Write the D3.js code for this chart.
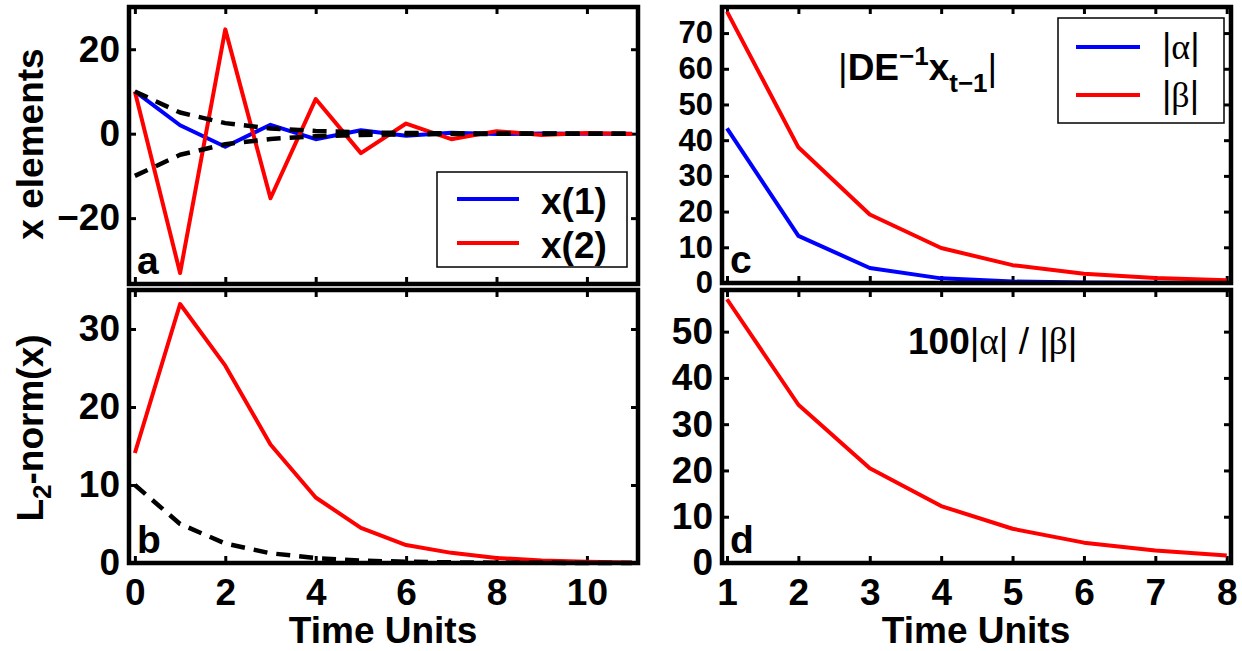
<!DOCTYPE html>
<html>
<head>
<meta charset="utf-8">
<script src="https://cdn.jsdelivr.net/npm/d3@7"></script>
<style>
  body { margin: 0; background: #fff; }
  svg { display: block; }
  text { font-family: "Liberation Sans", Arial, Helvetica, sans-serif; fill: #000; }
</style>
</head>
<body>
<div id="chart"></div>
<script>
// Sizes of the picture
var w = 1242,
    h = 651;

// Time steps for the left panels (a, b) and the right panels (c, d)
var timeLeft = [0, 1, 2, 3, 4, 5, 6, 7, 8, 9, 10, 11];
var timeRight = [1, 2, 3, 4, 5, 6, 7, 8];

// Panel a: the two elements of x and the dashed envelope
var x1Values = [10, 2, -3.1, 2.1, -1.3, 0.8, -0.5, 0.2, -0.1, 0.05, -0.02, 0.01];
var x2Values = [10, -33, 24.7, -15.3, 8.2, -4.6, 2.4, -1.3, 0.6, -0.3, 0.15, -0.07];
var envUpper = [10, 5, 2.5, 1.25, 0.63, 0.31, 0.16, 0.08, 0.04, 0.02, 0.01, 0.005];
var envLower = [-10, -5, -2.5, -1.25, -0.63, -0.31, -0.16, -0.08, -0.04, -0.02, -0.01, -0.005];

// Panel b: L2-norm of x and the dashed reference
var normValues = [14.1, 33.2, 25.3, 15.2, 8.4, 4.5, 2.3, 1.3, 0.65, 0.33, 0.16, 0.08];
var normRef = [10, 5, 2.5, 1.25, 0.63, 0.31, 0.16, 0.08, 0.04, 0.02, 0.01, 0.005];

// Panel c: |alpha| and |beta|
var alphaValues = [43.3, 13.2, 4.2, 1.3, 0.4, 0.12, 0.04, 0.01];
var betaValues = [76, 38, 19.2, 9.8, 5, 2.6, 1.4, 0.8];

// Panel d: 100|alpha| / |beta|
var ratioValues = [57, 34.2, 20.5, 12.3, 7.4, 4.4, 2.7, 1.6];

// Tick values
var ticksLeftX = [0, 2, 4, 6, 8, 10];
var ticksRightX = [1, 2, 3, 4, 5, 6, 7, 8];
var ticksA = [-20, 0, 20];
var ticksB = [0, 10, 20, 30];
var ticksC = [0, 10, 20, 30, 40, 50, 60, 70];
var ticksD = [0, 10, 20, 30, 40, 50];

var blue = "#0000ff", red = "#ff0000";
var fontSize = 37;

var svg = d3.select("#chart")
    .append("svg")
    .attr("width", w)
    .attr("height", h)
    .attr("viewBox", "0 0 " + w + " " + h);

// Draws one framed panel with inward ticks on all four sides.
function panel(cfg) {
    var x = d3.scaleLinear().domain(cfg.xDomain).range([cfg.left, cfg.right]);
    var y = d3.scaleLinear().domain(cfg.yDomain).range([cfg.bottom, cfg.top]);
    var g = svg.append("g");

    g.append("rect")
        .attr("x", cfg.left)
        .attr("y", cfg.top)
        .attr("width", cfg.right - cfg.left)
        .attr("height", cfg.bottom - cfg.top)
        .attr("fill", "#fff");

    var bottomAxis = d3.axisBottom(x).tickValues(cfg.xTicks)
        .tickSizeInner(-7).tickSizeOuter(0).tickPadding(16);
    if (!cfg.xLabels) bottomAxis.tickFormat("");
    g.append("g")
        .attr("transform", "translate(0," + cfg.bottom + ")")
        .call(bottomAxis);

    g.append("g")
        .attr("transform", "translate(0," + cfg.top + ")")
        .call(d3.axisTop(x).tickValues(cfg.xTicks)
            .tickSizeInner(-7).tickSizeOuter(0).tickFormat(""));

    var leftAxis = g.append("g")
        .attr("class", "left-axis")
        .attr("transform", "translate(" + cfg.left + ",0)")
        .call(d3.axisLeft(y).tickValues(cfg.yTicks)
            .tickSizeInner(-7).tickSizeOuter(0).tickPadding(9));

    g.append("g")
        .attr("transform", "translate(" + cfg.right + ",0)")
        .call(d3.axisRight(y).tickValues(cfg.yTicks)
            .tickSizeInner(-7).tickSizeOuter(0).tickFormat(""));

    g.selectAll(".domain").remove();
    g.selectAll(".tick line").attr("stroke", "#000").attr("stroke-width", 3);
    g.selectAll(".tick text")
        .attr("font-size", fontSize)
        .attr("font-weight", "bold")
        .attr("font-family", "'Liberation Sans', Arial, sans-serif");
    // dense y ticks (panel c) need a slightly smaller face
    if (cfg.yFont) leftAxis.selectAll(".tick text").attr("font-size", cfg.yFont);

    var plot = g.append("g");

    g.append("rect")
        .attr("x", cfg.left)
        .attr("y", cfg.top)
        .attr("width", cfg.right - cfg.left)
        .attr("height", cfg.bottom - cfg.top)
        .attr("fill", "none")
        .attr("stroke", "#000")
        .attr("stroke-width", 4.5);

    // panel letter
    g.append("text")
        .attr("x", cfg.left + 8)
        .attr("y", cfg.bottom - 10)
        .attr("font-size", 39)
        .attr("font-weight", "bold")
        .text(cfg.letter);

    return {x: x, y: y, plot: plot, g: g};
}

function drawLine(p, xs, ys, color, dashed) {
    var line = d3.line()
        .x(function (d, i) { return p.x(xs[i]); })
        .y(function (d) { return p.y(d); });
    p.plot.append("path")
        .datum(ys)
        .attr("d", line)
        .attr("fill", "none")
        .attr("stroke", color)
        .attr("stroke-width", dashed ? 4.5 : 4)
        .attr("stroke-linejoin", "round")
        .attr("stroke-dasharray", dashed ? "14,9" : null);
}

// Panel a
var pa = panel({
    left: 129, right: 638, top: 7, bottom: 284,
    xDomain: [-0.13, 11.13], yDomain: [-35.6, 30],
    xTicks: ticksLeftX, yTicks: ticksA, xLabels: false, letter: "a"
});
drawLine(pa, timeLeft, x1Values, blue, false);
drawLine(pa, timeLeft, x2Values, red, false);
drawLine(pa, timeLeft, envUpper, "#000", true);
drawLine(pa, timeLeft, envLower, "#000", true);

// Panel a legend
var legA = pa.g.append("g");
legA.append("rect")
    .attr("x", 437).attr("y", 172).attr("width", 190).attr("height", 95)
    .attr("fill", "#fff").attr("stroke", "#000").attr("stroke-width", 1.5);
[["x(1)", blue, 199], ["x(2)", red, 243]].forEach(function (d) {
    legA.append("line")
        .attr("x1", 457).attr("x2", 519).attr("y1", d[2]).attr("y2", d[2])
        .attr("stroke", d[1]).attr("stroke-width", 4);
    legA.append("text")
        .attr("x", 541).attr("y", d[2] + 15)
        .attr("font-size", fontSize).attr("font-weight", "bold")
        .text(d[0]);
});

// Panel c
var pc = panel({
    left: 722, right: 1231, top: 7, bottom: 283,
    xDomain: [0.93, 8.06], yDomain: [0, 77.3],
    xTicks: ticksRightX, yTicks: ticksC, xLabels: false, letter: "c", yFont: 31
});
drawLine(pc, timeRight, alphaValues, blue, false);
drawLine(pc, timeRight, betaValues, red, false);

// Panel c annotation |DE^-1 x_(t-1)|
var annC = pc.g.append("text")
    .attr("x", 838).attr("y", 80)
    .attr("font-size", fontSize);
annC.append("tspan").attr("font-weight", "normal").text("|");
annC.append("tspan").attr("font-weight", "bold").text("DE");
annC.append("tspan").attr("font-weight", "bold").attr("font-size", 26).attr("dy", -15).text("\u22121");
annC.append("tspan").attr("font-weight", "bold").attr("dy", 15).text("x");
annC.append("tspan").attr("font-weight", "bold").attr("font-size", 26).attr("dy", 12).text("t\u22121");
annC.append("tspan").attr("font-weight", "normal").attr("dy", -12).text("|");

// Panel c legend
var legC = pc.g.append("g");
legC.append("rect")
    .attr("x", 1058).attr("y", 18).attr("width", 166).attr("height", 105)
    .attr("fill", "#fff").attr("stroke", "#000").attr("stroke-width", 1.5);
[["\u03b1", blue, 47], ["\u03b2", red, 95]].forEach(function (d) {
    legC.append("line")
        .attr("x1", 1076).attr("x2", 1140).attr("y1", d[2]).attr("y2", d[2])
        .attr("stroke", d[1]).attr("stroke-width", 4);
    var t = legC.append("text")
        .attr("x", 1162).attr("y", d[2] + 12)
        .attr("font-size", 36);
    t.append("tspan").text("|");
    t.append("tspan").attr("font-family", "'Liberation Serif', 'Times New Roman', serif").text(d[0]);
    t.append("tspan").text("|");
});

// Panel b
var pb = panel({
    left: 129, right: 638, top: 290, bottom: 563,
    xDomain: [-0.13, 11.13], yDomain: [0, 35],
    xTicks: ticksLeftX, yTicks: ticksB, xLabels: true, letter: "b"
});
drawLine(pb, timeLeft, normValues, red, false);
drawLine(pb, timeLeft, normRef, "#000", true);

// Panel d
var pd = panel({
    left: 722, right: 1231, top: 290, bottom: 563,
    xDomain: [0.93, 8.06], yDomain: [0, 59],
    xTicks: ticksRightX, yTicks: ticksD, xLabels: true, letter: "d"
});
drawLine(pd, timeRight, ratioValues, red, false);

// Panel d annotation 100|alpha| / |beta|
var annD = pd.g.append("text")
    .attr("x", 908).attr("y", 354)
    .attr("font-size", fontSize);
annD.append("tspan").attr("font-weight", "bold").text("100");
annD.append("tspan").text("|");
annD.append("tspan").attr("font-family", "'Liberation Serif', serif").text("\u03b1");
annD.append("tspan").text("| / |");
annD.append("tspan").attr("font-family", "'Liberation Serif', serif").text("\u03b2");
annD.append("tspan").text("|");

// Axis titles
svg.append("text")
    .attr("transform", "translate(43,144) rotate(-90)")
    .attr("text-anchor", "middle")
    .attr("font-size", 37).attr("font-weight", "bold")
    .text("x elements");

var yb = svg.append("text")
    .attr("transform", "translate(43,428) rotate(-90)")
    .attr("text-anchor", "middle")
    .attr("font-size", 37).attr("font-weight", "bold");
yb.append("tspan").text("L");
yb.append("tspan").attr("font-size", 26).attr("dy", 8).text("2");
yb.append("tspan").attr("dy", -8).text("-norm(x)");

[[383, "Time Units"], [976, "Time Units"]].forEach(function (d) {
    svg.append("text")
        .attr("x", d[0]).attr("y", 643)
        .attr("text-anchor", "middle")
        .attr("font-size", 37).attr("font-weight", "bold")
        .text(d[1]);
});
</script>
</body>
</html>
